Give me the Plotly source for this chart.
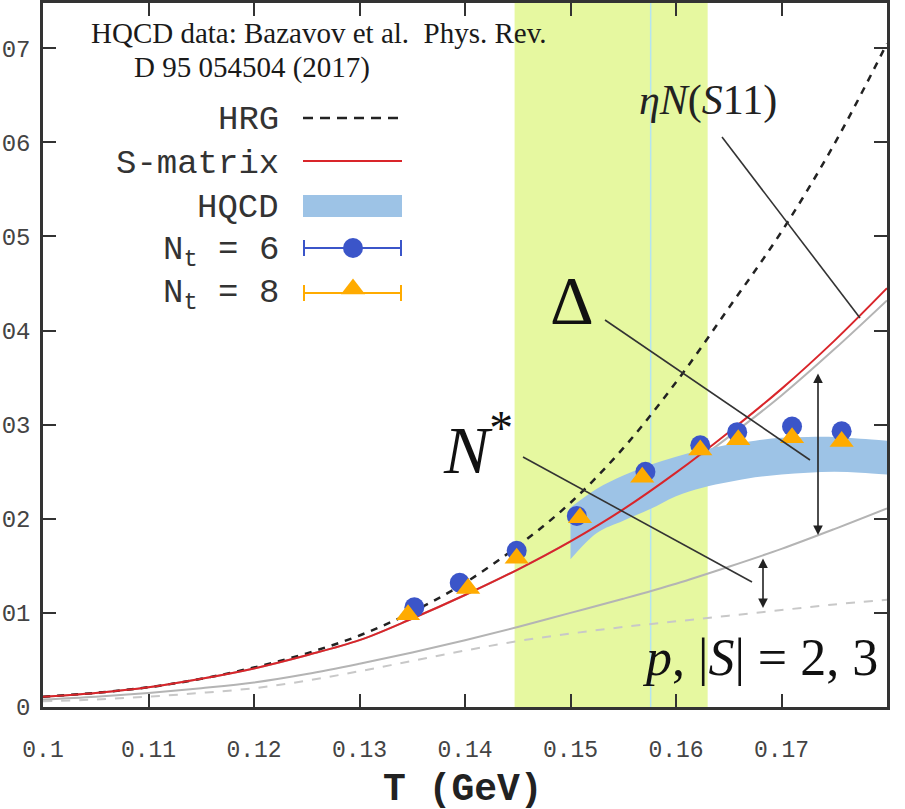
import plotly.graph_objects as go

# ---------------- data ----------------
T_grid = [0.100, 0.105, 0.110, 0.115, 0.120, 0.125, 0.130, 0.135, 0.140,
          0.145, 0.150, 0.155, 0.160, 0.165, 0.170, 0.175, 0.180]
hrg = [0.0011, 0.0015, 0.0021, 0.0030, 0.0042, 0.0057, 0.0076, 0.0101, 0.0132,
       0.0171, 0.0217, 0.0275, 0.0345, 0.0424, 0.0505, 0.0598, 0.0705]
smatrix = [0.0011, 0.0015, 0.0021, 0.0030, 0.0041, 0.0055, 0.0071, 0.0094, 0.0119,
           0.0146, 0.0176, 0.0210, 0.0249, 0.0292, 0.0338, 0.0389, 0.0445]
smatrix_no_eta = [0.0011, 0.0015, 0.0021, 0.0030, 0.0041, 0.0055, 0.0071, 0.0094, 0.0119,
                  0.0146, 0.0176, 0.0209, 0.0246, 0.0287, 0.0331, 0.0380, 0.0432]
nucleon_sum = [0.0008, 0.0011, 0.0015, 0.0020, 0.0026, 0.0035, 0.0046, 0.0058, 0.0071,
               0.0085, 0.0100, 0.0115, 0.0131, 0.0149, 0.0168, 0.0189, 0.0211]
proton_s23 = [0.0006, 0.0008, 0.0011, 0.0015, 0.0020, 0.0028, 0.0038, 0.0049, 0.0060,
              0.0070, 0.0078, 0.0085, 0.0091, 0.0097, 0.0103, 0.0109, 0.0114]

T_band = [0.1500, 0.1525, 0.1550, 0.1575, 0.1600, 0.1625, 0.1650, 0.1675,
          0.1700, 0.1725, 0.1750, 0.1775, 0.1800]
hqcd_lo = [0.0157, 0.0185, 0.0198, 0.0210, 0.0224, 0.0233, 0.0239, 0.0244,
           0.0247, 0.0249, 0.0250, 0.0249, 0.0247]
hqcd_hi = [0.0212, 0.0232, 0.0246, 0.0257, 0.0266, 0.0273, 0.0279, 0.0283,
           0.0286, 0.0287, 0.0287, 0.0285, 0.0283]

T_nt6 = [0.1352, 0.1395, 0.1449, 0.1506, 0.1571, 0.1623, 0.1658, 0.1710, 0.1757]
y_nt6 = [0.0106, 0.0132, 0.0166, 0.0203, 0.0250, 0.0278, 0.0292, 0.0298, 0.0293]
T_nt8 = [0.1346, 0.1403, 0.1449, 0.1509, 0.1568, 0.1623, 0.1659, 0.1710, 0.1757]
y_nt8 = [0.0098, 0.0126, 0.0158, 0.0201, 0.0244, 0.0273, 0.0284, 0.0286, 0.0282]

Tc_lo, Tc_hi, Tc_mid = 0.1447, 0.1630, 0.1576

# ---------------- geometry helpers ----------------
W, H = 905, 809
L, R, TOP, BOT = 43, 887, 3, 707
XR = [0.1, 0.18]
YR = [0.0, 0.0748]


def px2x(px):
    return XR[0] + (px - L) / (R - L) * (XR[1] - XR[0])


def py2y(py):
    return YR[0] + (BOT - py) / (BOT - TOP) * (YR[1] - YR[0])


def pxp(px):
    return (px - L) / (R - L)


def pyp(py):
    return (BOT - py) / (BOT - TOP)


fig = go.Figure()

# grey reference curves
fig.add_trace(go.Scatter(x=T_grid, y=proton_s23, mode="lines", line=dict(color="#c8c8c8", width=2, dash="dash", shape="spline"), hoverinfo="skip"))
fig.add_trace(go.Scatter(x=T_grid, y=nucleon_sum, mode="lines", line=dict(color="#b4b4b4", width=2, shape="spline"), hoverinfo="skip"))
fig.add_trace(go.Scatter(x=T_grid, y=smatrix_no_eta, mode="lines", line=dict(color="#b4b4b4", width=2, shape="spline"), hoverinfo="skip"))

# HQCD band
fig.add_trace(go.Scatter(x=T_band, y=hqcd_lo, mode="lines", line=dict(width=0, shape="spline"), hoverinfo="skip"))
fig.add_trace(go.Scatter(x=T_band, y=hqcd_hi, mode="lines", line=dict(width=0, shape="spline"), fill="tonexty", fillcolor="#9dc3e6", hoverinfo="skip"))

# HRG and S-matrix
fig.add_trace(go.Scatter(x=T_grid, y=hrg, mode="lines", line=dict(color="#222222", width=2.5, dash="7px,7px", shape="spline"), hoverinfo="skip"))
fig.add_trace(go.Scatter(x=T_grid, y=smatrix, mode="lines", line=dict(color="#d9252a", width=2, shape="spline"), hoverinfo="skip"))

# lattice points
fig.add_trace(go.Scatter(x=T_nt6, y=y_nt6, mode="markers", marker=dict(symbol="circle", size=20, color="#3b55c9")))
fig.add_trace(go.Scatter(x=T_nt8, y=y_nt8, mode="markers", marker=dict(symbol="triangle-up", size=21, color="#ffab00")))

# legend glyph markers on an overlay axis in paper-like units
fig.add_trace(go.Scatter(x=[pxp(353)], y=[pyp(248)], xaxis="x2", yaxis="y2", mode="markers",
                         marker=dict(symbol="circle", size=20, color="#3b55c9")))
fig.add_trace(go.Scatter(x=[pxp(353)], y=[pyp(289)], xaxis="x2", yaxis="y2", mode="markers",
                         marker=dict(symbol="triangle-up", size=21, color="#ffab00")))

shapes = []
# Tc band and line
shapes.append(dict(type="rect", xref="x", yref="paper", x0=Tc_lo, x1=Tc_hi, y0=0, y1=1,
                   fillcolor="#e6f8a0", line=dict(width=0), layer="below"))
shapes.append(dict(type="line", xref="x", yref="paper", x0=Tc_mid, x1=Tc_mid, y0=0, y1=1,
                   line=dict(color="#b4e4f2", width=1.5), layer="below"))

# pointer lines
for (xa, ya, xb, yb) in [(722, 137, 860, 318), (605, 320, 810, 460), (523, 457, 752, 582)]:
    shapes.append(dict(type="line", xref="x", yref="y", x0=px2x(xa), y0=py2y(ya), x1=px2x(xb), y1=py2y(yb),
                       line=dict(color="#333333", width=1.6)))

# legend samples
shapes.append(dict(type="line", xref="paper", yref="paper", x0=pxp(303), x1=pxp(402), y0=pyp(118), y1=pyp(118),
                   line=dict(color="#222222", width=2.5, dash="10px,7px")))
shapes.append(dict(type="line", xref="paper", yref="paper", x0=pxp(303), x1=pxp(402), y0=pyp(161), y1=pyp(161),
                   line=dict(color="#d9252a", width=2)))
shapes.append(dict(type="rect", xref="paper", yref="paper", x0=pxp(303), x1=pxp(402), y0=pyp(217), y1=pyp(195),
                   fillcolor="#9dc3e6", line=dict(width=0)))
for yy, col in [(248, "#3b55c9"), (293, "#ffab00")]:
    shapes.append(dict(type="line", xref="paper", yref="paper", x0=pxp(304), x1=pxp(401), y0=pyp(yy), y1=pyp(yy),
                       line=dict(color=col, width=2)))
    for xx in (304, 401):
        shapes.append(dict(type="line", xref="paper", yref="paper", x0=pxp(xx), x1=pxp(xx), y0=pyp(yy - 8), y1=pyp(yy + 8),
                           line=dict(color=col, width=2)))

annotations = []
serif = "Liberation Serif"
mono = "Liberation Mono"
annotations.append(dict(xref="paper", yref="paper", x=pxp(89), y=pyp(33), xanchor="left", yanchor="middle",
                        text="HQCD data: Bazavov et al.  Phys. Rev.", showarrow=False,
                        font=dict(family=serif, size=29, color="#1a1a1a")))
annotations.append(dict(xref="paper", yref="paper", x=pxp(132), y=pyp(68), xanchor="left", yanchor="middle",
                        text="D 95 054504 (2017)", showarrow=False,
                        font=dict(family=serif, size=29, color="#1a1a1a")))

for txt, yy in [("HRG", 120), ("S-matrix", 164), ("HQCD", 208), ("N<sub>t</sub> = 6", 252), ("N<sub>t</sub> = 8", 295)]:
    annotations.append(dict(xref="paper", yref="paper", x=pxp(281), y=pyp(yy), xanchor="right", yanchor="middle",
                            text=txt, showarrow=False, font=dict(family=mono, size=34, color="#333333")))

# math labels
annotations.append(dict(xref="paper", yref="paper", x=pxp(708), y=pyp(100), xanchor="center", yanchor="middle",
                        text="<i>ηN</i>(<i>S</i>11)", showarrow=False, font=dict(family=serif, size=42, color="#222222")))
annotations.append(dict(xref="paper", yref="paper", x=pxp(572), y=pyp(300), xanchor="center", yanchor="middle",
                        text="Δ", showarrow=False, font=dict(family=serif, size=68, color="#111111")))
annotations.append(dict(xref="paper", yref="paper", x=pxp(478), y=pyp(445), xanchor="center", yanchor="middle",
                        text="<i>N</i><sup>*</sup>", showarrow=False, font=dict(family=serif, size=68, color="#111111")))
annotations.append(dict(xref="paper", yref="paper", x=pxp(760), y=pyp(657), xanchor="center", yanchor="middle",
                        text="<i>p</i>, |<i>S</i>| = 2, 3", showarrow=False, font=dict(family=serif, size=52, color="#111111")))

# double arrows
for (xx, ya, yb) in [(818, 372, 535), (763, 557, 608)]:
    annotations.append(dict(xref="x", yref="y", axref="x", ayref="y", x=px2x(xx), y=py2y(yb), ax=px2x(xx), ay=py2y(ya),
                            text="", showarrow=True, arrowhead=2, arrowside="end+start", arrowsize=1.2,
                            arrowwidth=1.6, arrowcolor="#222222"))

# x title
annotations.append(dict(xref="paper", yref="paper", x=pxp(463), y=pyp(789), xanchor="center", yanchor="middle",
                        text="<b>T (GeV)</b>", showarrow=False, font=dict(family=mono, size=38, color="#222222")))

fig.update_layout(
    width=W, height=H,
    margin=dict(l=L, r=W - R, t=TOP, b=H - BOT, pad=0, autoexpand=False),
    paper_bgcolor="white", plot_bgcolor="white",
    showlegend=False,
    shapes=shapes, annotations=annotations,
    xaxis=dict(range=XR, dtick=0.01, tick0=0.1, ticks="inside", ticklen=13, tickwidth=2, tickcolor="#333333",
               showline=True, linewidth=2.5, linecolor="#333333", mirror="ticks", showgrid=False, zeroline=False,
               automargin=False,
               tickfont=dict(family=mono, size=23, color="#444444"), ticklabelstandoff=20),
    yaxis=dict(range=YR, dtick=0.01, tick0=0, ticks="inside", ticklen=13, tickwidth=2, tickcolor="#333333",
               showline=True, linewidth=2.5, linecolor="#333333", mirror="ticks", showgrid=False, zeroline=False,
               automargin=False,
               tickfont=dict(family=mono, size=24, color="#444444"), ticklabelstandoff=5),
    xaxis2=dict(range=[0, 1], overlaying="x", visible=False),
    yaxis2=dict(range=[0, 1], overlaying="y", visible=False),
)

fig.write_html("out.html")
